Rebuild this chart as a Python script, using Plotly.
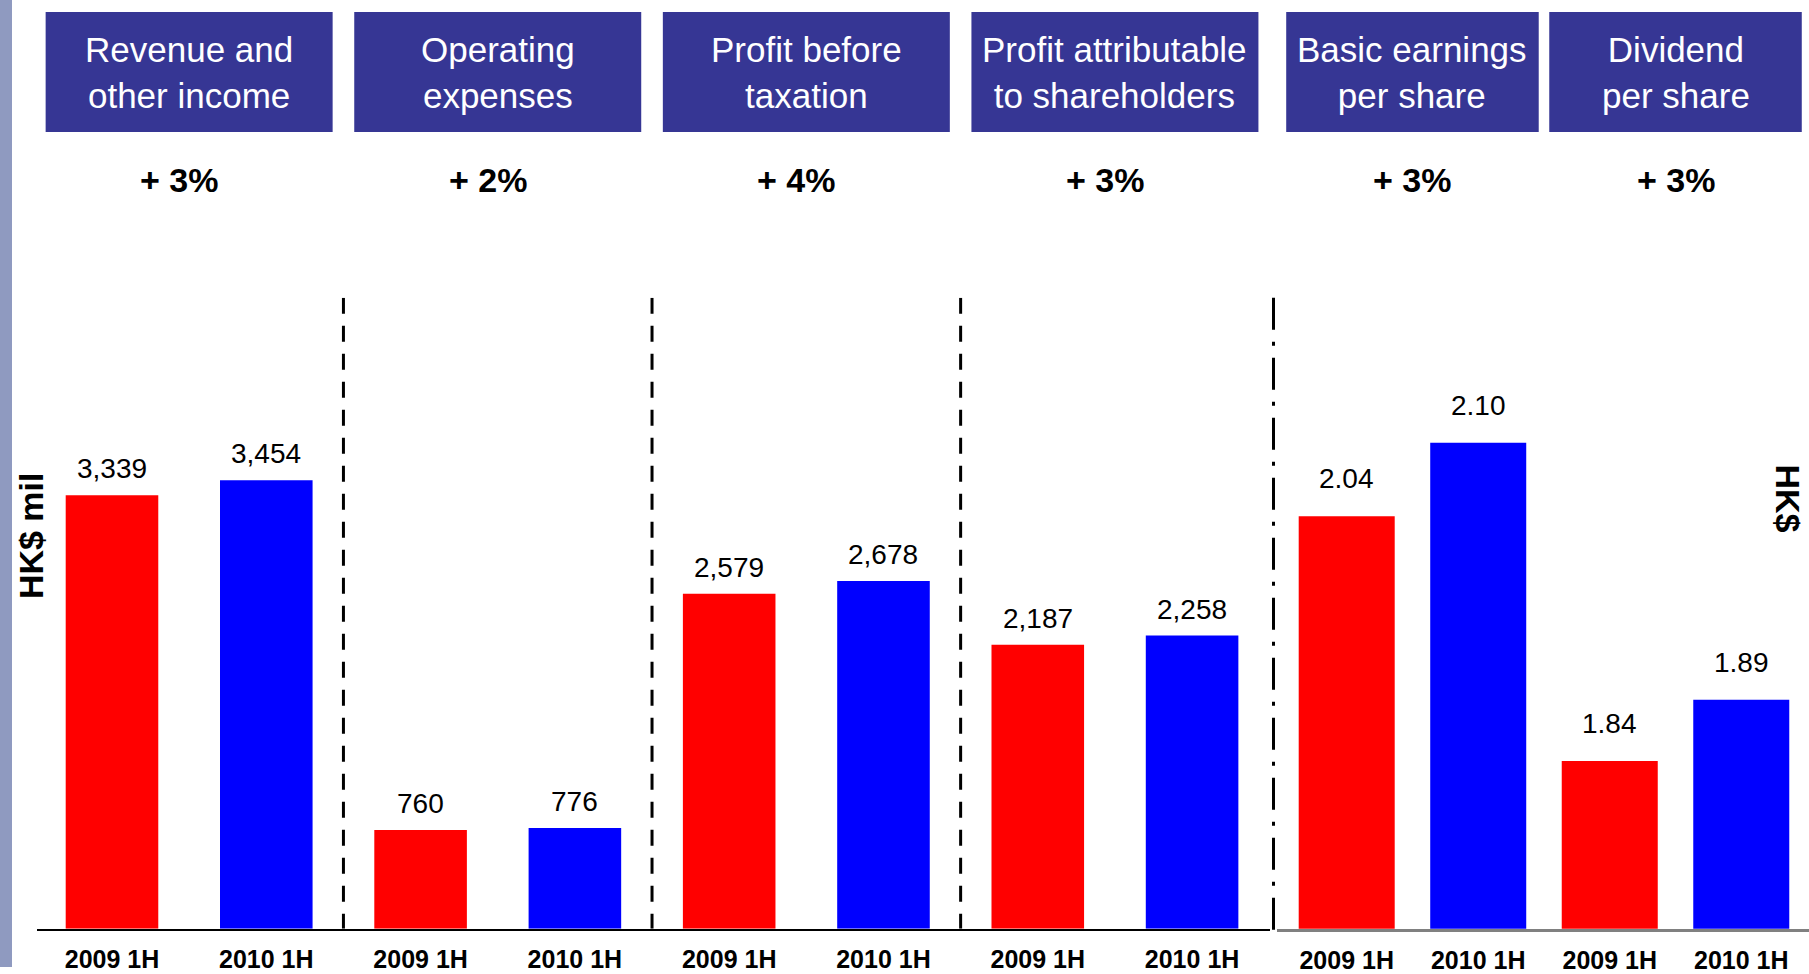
import plotly.graph_objects as go

# ---- data -------------------------------------------------------------
metrics = [
    "Revenue and<br>other income",
    "Operating<br>expenses",
    "Profit before<br>taxation",
    "Profit attributable<br>to shareholders",
    "Basic earnings<br>per share",
    "Dividend<br>per share",
]
periods = ["2009 1H", "2010 1H"]
values_2009 = [3339, 760, 2579, 2187, 2.04, 1.84]
values_2010 = [3454, 776, 2678, 2258, 2.10, 1.89]
changes = ["+ 3%", "+ 2%", "+ 4%", "+ 3%", "+ 3%", "+ 3%"]
units = ["HK$ mil", "HK$"]
n_left = 4  # first four metrics are in HK$ mil, the rest per share

# ---- page geometry ----------------------------------------------------
W, H = 1809, 974
FONT = "Liberation Sans, Arial, sans-serif"
RED, BLUE = "#FF0000", "#0000FF"
HEADER = "#363694"

BASE_PX, TOP_PX = 935.5, 300  # plot area bottom / top in page pixels


def px_x(x):
    return x / W


def px_y(y):
    return 1 - y / H


y_dom = [px_y(BASE_PX), px_y(TOP_PX)]
left_dom = [px_x(37), px_x(1270)]
right_dom = [px_x(1277), 1.0]

fig = go.Figure()

panels = [
    dict(xa="x", ya="y", lo=0, hi=n_left, width=0.6, fmt="{:,.0f}", shift=9),
    dict(xa="x2", ya="y2", lo=n_left, hi=len(metrics), width=0.73, fmt="{:.2f}", shift=20),
]

annotations = []
shapes = []

for p in panels:
    v09 = values_2009[p["lo"]:p["hi"]]
    v10 = values_2010[p["lo"]:p["hi"]]
    x09 = [2 * i for i in range(len(v09))]
    x10 = [2 * i + 1 for i in range(len(v10))]
    for xs, vs, col, name in [(x09, v09, RED, periods[0]), (x10, v10, BLUE, periods[1])]:
        fig.add_trace(go.Bar(
            x=xs, y=vs, name=name, width=p["width"],
            marker=dict(color=col, line=dict(width=0)),
            xaxis=p["xa"], yaxis=p["ya"], showlegend=False,
            hoverinfo="skip",
        ))
        for x, v in zip(xs, vs):
            annotations.append(dict(
                x=x, y=v, xref=p["xa"], yref=p["ya"], text=p["fmt"].format(v),
                showarrow=False, yanchor="bottom", yshift=p["shift"],
                font=dict(family=FONT, size=28, color="black"),
            ))

    # headers and growth figures per metric group
    half = 0.93 if p["xa"] == "x" else 0.96
    for i, m in enumerate(metrics[p["lo"]:p["hi"]]):
        c = 2 * i + 0.5
        shapes.append(dict(
            type="rect", xref=p["xa"], yref="paper",
            x0=c - half, x1=c + half, y0=px_y(133), y1=px_y(12),
            fillcolor=HEADER, line=dict(width=0), layer="below",
        ))
        annotations.append(dict(
            x=c, y=px_y(73), xref=p["xa"], yref="paper", text=m,
            showarrow=False, yanchor="middle",
            font=dict(family=FONT, size=35, color="white"),
        ))
        annotations.append(dict(
            x=c, y=px_y(181), xref=p["xa"], yref="paper",
            text="<b>" + changes[p["lo"] + i] + "</b>",
            showarrow=False, yanchor="middle", xshift=-10 if p["xa"] == "x" else 0,
            font=dict(family=FONT, size=34, color="black"),
        ))

# dashed separators between the HK$ mil groups
y_top_left = (BASE_PX - TOP_PX) / 0.1308
for k in range(1, n_left):
    shapes.append(dict(
        type="line", xref="x", yref="y", x0=2 * k - 0.5, x1=2 * k - 0.5,
        y0=y_top_left, y1=0, line=dict(color="black", width=3, dash="16px,12px"),
    ))

# dash-dot divider between the two panels
mid = (left_dom[1] + right_dom[0]) / 2
shapes.append(dict(
    type="line", xref="paper", yref="paper", x0=mid, x1=mid,
    y0=y_dom[1], y1=px_y(BASE_PX + 1.5),
    line=dict(color="black", width=3, dash="32px,12px,4px,12px"),
))

# grey stripe at the left edge
shapes.append(dict(
    type="rect", xref="paper", yref="paper", x0=0, x1=px_x(12), y0=0, y1=1,
    fillcolor="#8F9AC0", line=dict(width=0),
))

# unit titles
annotations.append(dict(
    x=px_x(31), y=px_y(540), xref="paper", yref="paper", text="<b>" + units[0] + "</b>",
    textangle=-90, showarrow=False, xanchor="center", yanchor="middle",
    font=dict(family=FONT, size=34, color="black"),
))
annotations.append(dict(
    x=px_x(1788), y=px_y(502), xref="paper", yref="paper", text="<b>" + units[1] + "</b>",
    textangle=90, showarrow=False, xanchor="center", yanchor="middle",
    font=dict(family=FONT, size=34, color="black"),
))

tickfont = dict(family=FONT, size=25, color="black", weight="bold")
fig.update_layout(
    width=W, height=H,
    margin=dict(l=0, r=0, t=0, b=0),
    paper_bgcolor="white", plot_bgcolor="white",
    barmode="overlay",
    showlegend=False,
    xaxis=dict(
        domain=left_dom, range=[-0.486, 7.505], anchor="y",
        tickvals=list(range(2 * n_left)), ticktext=periods * n_left,
        showline=True, linecolor="black", linewidth=2, ticks="",
        ticklabelstandoff=7,
        showgrid=False, zeroline=False, tickfont=tickfont,
    ),
    yaxis=dict(
        domain=y_dom, range=[0, y_top_left], anchor="x",
        showgrid=False, zeroline=False, showticklabels=False, showline=False,
    ),
    xaxis2=dict(
        domain=right_dom, range=[-0.53, 3.515], anchor="y2",
        tickvals=list(range(2 * (len(metrics) - n_left))),
        ticktext=periods * (len(metrics) - n_left),
        showline=True, linecolor="#808080", linewidth=3, ticks="",
        ticklabelstandoff=7,
        showgrid=False, zeroline=False, tickfont=tickfont,
    ),
    yaxis2=dict(
        domain=y_dom, range=[1.703, 1.703 + (BASE_PX - TOP_PX) / 1233], anchor="x2",
        showgrid=False, zeroline=False, showticklabels=False, showline=False,
    ),
    shapes=shapes,
    annotations=annotations,
)

# the page body must not add its default margin around the fixed-size figure
fig.write_html(
    "out.html",
    config={"displayModeBar": False},
    post_script="document.body.style.margin='0';",
)
